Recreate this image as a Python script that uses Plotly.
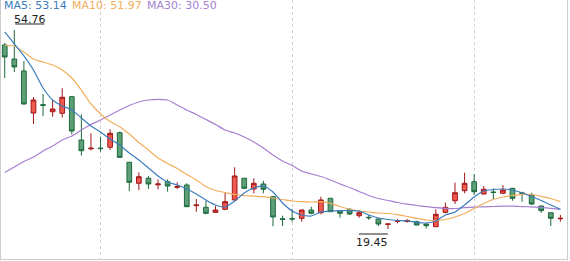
import plotly.graph_objects as go

# ---- data ----
idx = list(range(59))
open_ = [52.10, 49.61, 47.49, 40.03, 41.51, 40.26, 39.98, 42.93, 35.24, 33.68,
         33.81, 33.95, 36.54, 31.29, 27.56, 28.45, 27.29, 27.84, 26.85, 27.26,
         23.59, 23.30, 22.41, 22.95, 24.60, 28.45, 26.55, 27.44, 25.18, 21.26,
         21.30, 21.35, 22.82, 22.34, 24.90, 22.70, 22.95, 21.81, 21.53, 21.23,
         20.29, 20.82, 20.82, 20.75, 20.34, 19.86, 22.41, 24.47, 26.25, 27.84,
         25.66, 26.02, 25.79, 26.67, 25.84, 25.48, 23.53, 22.34, 21.28]
high = [52.45, 54.76, 49.26, 42.87, 43.41, 42.34, 44.42, 43.05, 39.80, 36.43,
        35.83, 37.14, 36.72, 31.34, 29.51, 28.86, 28.27, 28.27, 27.74, 27.56,
        24.77, 24.47, 23.53, 25.89, 30.40, 28.55, 28.45, 28.02, 25.31, 21.81,
        23.00, 22.88, 23.41, 25.18, 24.95, 22.82, 23.12, 22.82, 21.94, 21.35,
        20.39, 21.23, 21.23, 20.92, 20.43, 22.95, 24.12, 27.67, 29.44, 29.21,
        27.08, 26.67, 27.26, 26.73, 26.07, 25.89, 23.59, 22.38, 21.94]
low = [46.24, 47.31, 41.55, 38.08, 39.50, 39.38, 39.20, 36.25, 32.49, 33.38,
       33.17, 33.47, 32.12, 26.19, 26.37, 26.55, 26.50, 26.07, 26.55, 23.36,
       22.52, 22.06, 22.34, 22.80, 24.47, 26.60, 25.79, 25.79, 19.93, 19.98,
       20.75, 20.75, 22.06, 22.06, 22.47, 21.46, 21.94, 21.46, 21.05, 19.98,
       19.45, 20.46, 20.57, 20.11, 19.54, 19.81, 22.24, 23.89, 25.79, 25.48,
       25.61, 24.77, 25.61, 24.47, 24.30, 23.71, 22.34, 19.98, 20.75]
close = [49.97, 48.20, 41.63, 42.34, 41.40, 40.74, 42.82, 36.84, 33.34, 33.79,
         33.72, 36.43, 32.17, 27.74, 28.73, 27.44, 27.44, 27.08, 26.96, 23.41,
         23.71, 22.24, 22.82, 24.30, 28.86, 26.67, 27.56, 26.50, 21.58, 21.17,
         21.23, 22.82, 22.24, 24.60, 22.52, 22.24, 22.11, 22.34, 21.46, 20.34,
         20.34, 20.87, 20.92, 20.16, 20.04, 22.06, 23.30, 25.89, 27.56, 26.07,
         26.50, 25.93, 26.37, 24.90, 25.79, 23.89, 22.70, 21.35, 21.35]

ma5 = [54.41, 52.28, 50.15, 47.66, 44.47, 42.34, 41.28, 40.57, 39.15, 37.73,
       36.66, 35.42, 34.36, 32.94, 31.69, 30.28, 28.86, 27.79, 27.26, 26.55,
       25.66, 24.60, 23.71, 23.36, 24.42, 25.84, 26.73, 27.08, 26.02, 24.07,
       22.65, 21.94, 21.76, 22.47, 22.65, 22.73, 22.73, 22.65, 21.94, 21.40,
       21.14, 20.96, 20.87, 20.64, 20.52, 20.87, 21.94, 22.47, 23.71, 25.13,
       26.19, 26.46, 26.55, 26.37, 25.84, 25.22, 24.51, 23.71, 22.95]
ma10 = [52.01, 51.92, 50.86, 49.62, 49.08, 48.55, 47.66, 46.24, 44.11, 41.63,
        39.86, 38.53, 37.60, 36.31, 34.80, 33.47, 32.05, 31.07, 30.19, 29.12,
        28.15, 26.99, 26.28, 25.93, 25.57, 25.40, 25.27, 25.18, 24.95, 24.69,
        24.42, 24.30, 24.24, 24.30, 24.01, 23.44, 22.95, 22.65, 22.47, 22.29,
        22.20, 21.99, 21.67, 21.35, 21.05, 20.96, 21.14, 21.58, 22.20, 23.09,
        23.98, 24.69, 25.13, 25.40, 25.61, 25.57, 25.25, 24.86, 24.30]
ma30 = [29.48, 30.45, 31.43, 32.23, 33.29, 34.18, 35.24, 35.95, 37.02, 37.99,
        38.79, 39.68, 40.57, 41.36, 41.99, 42.34, 42.46, 42.34, 41.45, 40.57,
        39.77, 38.88, 37.99, 37.02, 36.49, 35.78, 34.89, 33.82, 32.58, 31.52,
        30.72, 29.74, 29.21, 28.77, 28.15, 27.44, 26.82, 26.11, 25.40, 24.86,
        24.51, 24.15, 23.85, 23.62, 23.41, 23.23, 23.12, 23.09, 23.23, 23.32,
        23.39, 23.44, 23.50, 23.50, 23.43, 23.36, 23.27, 23.12, 22.95]

legend_texts = ["MA5: 53.14", "MA10: 51.97", "MA30: 30.50"]
grid_ticks = [10, 30, 49]

C_UP_FILL, C_UP_LINE = "#ef5a4e", "#a3171a"
C_DN_FILL, C_DN_LINE = "#5f9f78", "#1b6a3c"
C_MA5, C_MA10, C_MA30 = "#3b7dbd", "#f2ae5c", "#a67fd1"

fig = go.Figure()
fig.add_trace(go.Candlestick(
    x=idx, open=open_, high=high, low=low, close=close,
    increasing=dict(fillcolor=C_UP_FILL, line=dict(color=C_UP_LINE, width=1)),
    decreasing=dict(fillcolor=C_DN_FILL, line=dict(color=C_DN_LINE, width=1)),
    whiskerwidth=0, showlegend=False, hoverinfo="skip",
))
for ys, col in [(ma30, C_MA30), (ma10, C_MA10), (ma5, C_MA5)]:
    fig.add_trace(go.Scatter(x=idx, y=ys, mode="lines",
                             line=dict(color=col, width=1.2, shape="spline", smoothing=0.6),
                             showlegend=False, hoverinfo="skip"))

# legend texts
for txt, col, px in zip(legend_texts, [C_MA5, C_MA10, C_MA30], [2, 70, 145]):
    fig.add_annotation(xref="paper", yref="paper", x=px / 566, y=1, xanchor="left", yanchor="top",
                       text=txt, showarrow=False, font=dict(size=11, color=col, family="DejaVu Sans"),
                       borderpad=0, yshift=2)

# max / min marks
imax = high.index(max(high))
imin = low.index(min(low))
fig.add_annotation(x=imax, y=max(high), text=f"{max(high):.2f}", showarrow=False,
                   xanchor="left", yanchor="bottom", yshift=3, xshift=-1, borderpad=0,
                   font=dict(size=11, color="#222", family="DejaVu Sans"))
fig.add_shape(type="line", xref="x", yref="y", xsizemode="pixel", ysizemode="pixel",
              xanchor=imax, yanchor=max(high), x0=1, x1=30, y0=6, y1=6,
              line=dict(color="#222", width=1))
fig.add_annotation(x=imin, y=min(low), text=f"{min(low):.2f}", showarrow=False,
                   xanchor="right", yanchor="top", yshift=-6, xshift=1, borderpad=0,
                   font=dict(size=11, color="#222", family="DejaVu Sans"))
fig.add_shape(type="line", xref="x", yref="y", xsizemode="pixel", ysizemode="pixel",
              xanchor=imin, yanchor=min(low), x0=-29, x1=0, y0=-5, y1=-5,
              line=dict(color="#222", width=1))

fig.update_layout(
    width=570, height=261, margin=dict(l=1, r=3, t=0, b=2),
    paper_bgcolor="white", plot_bgcolor="white", showlegend=False,
    xaxis=dict(range=[-0.39, 58.69], rangeslider=dict(visible=False), tickvals=grid_ticks,
               showticklabels=False, ticks="", showgrid=True, gridcolor="#cfcfcf",
               griddash="dot", gridwidth=1, zeroline=False, showline=True,
               linecolor="#cccccc", linewidth=1, mirror=False),
    yaxis=dict(range=[14.13, 60.08], showgrid=False, showticklabels=False, ticks="",
               zeroline=False, showline=True, linecolor="#cccccc", linewidth=1, mirror=True),
)
fig.write_html("out.html")
